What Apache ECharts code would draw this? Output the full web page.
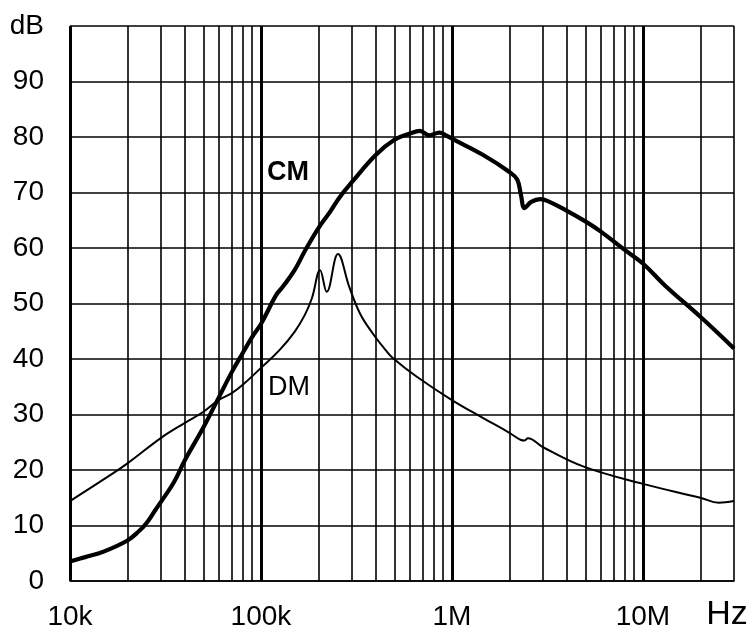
<!DOCTYPE html>
<html>
<head>
<meta charset="utf-8">
<script src="https://cdn.jsdelivr.net/npm/echarts@6/dist/echarts.min.js"></script>
<style>html,body{margin:0;padding:0;background:#fff}#c{width:751px;height:632px}</style>
</head>
<body>
<div id="c"></div>
<script>
const cmFreq = [10000, 12000, 15000, 20000, 23000, 25000, 28000, 30000, 35000, 40000, 50000, 60000, 70000, 80000, 90000, 100000, 120000, 130000, 150000, 170000, 200000, 230000, 260000, 300000, 400000, 500000, 600000, 680000, 760000, 860000, 930000, 1000000, 1450000, 2000000, 2200000, 2300000, 2400000, 2600000, 2900000, 3200000, 4000000, 5000000, 6000000, 8000000, 10000000, 13000000, 20000000, 30000000];
const cmValues = [3.5, 4.3, 5.3, 7.3, 9.0, 10.3, 12.8, 14.3, 17.8, 21.8, 27.7, 33, 37.5, 41, 44, 46.3, 51.5, 53, 56, 59.5, 63.6, 66.5, 69.3, 71.9, 76.8, 79.5, 80.6, 81.1, 80.3, 80.8, 80.3, 79.7, 76.8, 73.7, 72.3, 69.5, 67.2, 68.3, 68.8, 68.4, 66.7, 64.8, 63, 59.7, 57.2, 53.3, 47.6, 41.9];
const dmFreq = [10000, 15000, 20000, 30000, 40000, 50000, 60000, 70000, 80000, 100000, 125000, 150000, 170000, 185000, 204000, 221000, 253000, 290000, 330000, 385000, 450000, 490000, 655000, 1000000, 1450000, 2000000, 2300000, 2400000, 2500000, 3000000, 4900000, 10000000, 20000000, 25000000, 30000000];
const dmValues = [14.4, 18.3, 21.2, 25.8, 28.5, 30.5, 32.6, 33.8, 35.3, 38.4, 41.6, 44.9, 48, 51, 56.0, 52.1, 58.9, 53, 48.2, 44.6, 41.6, 40.2, 36.8, 32.6, 29.4, 26.7, 25.4, 25.3, 25.7, 24.1, 20.6, 17.5, 15.0, 14.1, 14.4];
const majorGrid = [10000, 100000, 1000000, 10000000];
const minorGrid = [20000, 30000, 40000, 50000, 60000, 70000, 80000, 90000, 200000, 300000, 400000, 500000, 600000, 700000, 800000, 900000, 2000000, 3000000, 4000000, 5000000, 6000000, 7000000, 8000000, 9000000, 20000000, 30000000];
const xTickLabels = {4: '10k', 5: '100k', 6: '1M', 7: '10M'};

const chart = echarts.init(document.getElementById('c'), null, {renderer: 'canvas'});
const font = 'Liberation Sans, Arial, sans-serif';
chart.setOption({
  animation: false,
  backgroundColor: '#fff',
  grid: {left: 70, right: 17, top: 26, bottom: 51},
  xAxis: {
    type: 'log', logBase: 10, min: 10000, max: 30000000,
    axisLine: {show: true, lineStyle: {color: '#000', width: 1.5}},
    axisTick: {show: false},
    splitLine: {show: false},
    minorTick: {show: false},
    axisLabel: {
      margin: 22, color: '#000', fontSize: 28, fontFamily: font,
      formatter: function (v) {
        const e = Math.log10(v);
        const r = Math.round(e);
        if (Math.abs(e - r) < 1e-6 && xTickLabels[r]) return xTickLabels[r];
        return '';
      }
    },
    name: 'Hz', nameLocation: 'end', nameGap: -7,
    nameTextStyle: {color: '#000', fontSize: 34, fontFamily: font, align: 'center', verticalAlign: 'top', padding: [17, 0, 0, 0]}
  },
  yAxis: {
    type: 'value', min: 0, max: 100, interval: 10,
    axisLine: {show: false},
    axisTick: {show: false},
    splitLine: {show: true, lineStyle: {color: '#000', width: 1.6}},
    axisLabel: {
      margin: 26, color: '#000', fontSize: 28, fontFamily: font,
      formatter: function (v) { return v === 100 ? 'dB' : String(v); }
    }
  },
  series: [
    {
      type: 'line', data: [], z: 1, silent: true,
      markLine: {
        silent: true, symbol: 'none', animation: false,
        label: {show: false},
        data: majorGrid.map(v => ({xAxis: v, lineStyle: {color: '#000', width: 3, type: 'solid'}}))
          .concat(minorGrid.map(v => ({xAxis: v, lineStyle: {color: '#000', width: 1.6, type: 'solid'}})))
      }
    },
    {
      name: 'DM', type: 'line', z: 3, showSymbol: false, smooth: 0.4,
      lineStyle: {color: '#000', width: 2},
      data: dmFreq.map((f, i) => [f, dmValues[i]])
    },
    {
      name: 'CM', type: 'line', z: 4, showSymbol: false, smooth: 0.4,
      lineStyle: {color: '#000', width: 4.2},
      data: cmFreq.map((f, i) => [f, cmValues[i]])
    }
  ],
  graphic: [
    {type: 'text', left: 267, top: 159, z: 10, style: {text: 'CM', font: 'bold 27px Liberation Sans, Arial, sans-serif', fill: '#000'}},
    {type: 'text', left: 268, top: 374, z: 10, style: {text: 'DM', font: '27px Liberation Sans, Arial, sans-serif', fill: '#000'}}
  ]
});
</script>
</body>
</html>
